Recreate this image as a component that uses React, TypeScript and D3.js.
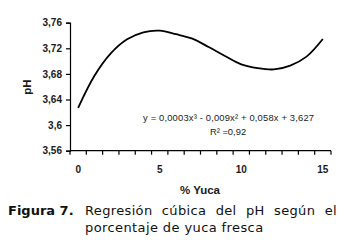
import React, { useEffect, useRef } from "react";
import * as d3 from "d3";

// % yuca (categorías) y pH
const yucaPct = [0, 1, 2, 3, 4, 5, 6, 7, 8, 9, 10, 11, 12, 13, 14, 15];
const phValues = [3.627, 3.677, 3.712, 3.734, 3.745, 3.7475, 3.742, 3.735, 3.722, 3.708, 3.695, 3.689, 3.687, 3.693, 3.707, 3.7345];
const yTicks = [3.56, 3.6, 3.64, 3.68, 3.72, 3.76];
const xLabelShown = [0, 5, 10, 15];
const equation = ["y = 0,0003x³ - 0,009x² + 0,058x + 3,627", "R² =0,92"];
const captionLine1 = ["Regresión", "cúbica", "del", "pH", "según", "el"];
const captionLine2 = "porcentaje de yuca fresca";

export default function App() {
  const svgRef = useRef<SVGSVGElement | null>(null);
  const W = 350;
  const H = 242;

  useEffect(() => {
    const svg = d3.select(svgRef.current);
    svg.selectAll("*").remove();

    const m = { left: 70, right: 19, top: 22.7, bottom: 91.3 };
    const font = "Liberation Sans, Arial, sans-serif";

    const x = d3
      .scaleBand<number>()
      .domain(yucaPct)
      .range([m.left, W - m.right])
      .padding(0);
    const y = d3
      .scaleLinear()
      .domain([3.56, 3.76])
      .range([H - m.bottom, m.top]);

    const fmt = (d: number) => String(+d.toFixed(2)).replace(".", ",");

    // eje y
    const gy = svg
      .append("g")
      .attr("transform", `translate(${m.left},0)`)
      .call(d3.axisLeft(y).tickValues(yTicks).tickSize(4).tickFormat((d) => fmt(d as number)));
    gy.select(".domain").attr("stroke", "#000").attr("stroke-width", 1.2);
    gy.selectAll(".tick line").attr("stroke", "#000").attr("stroke-width", 1.2);
    gy.selectAll("text")
      .attr("font-family", font)
      .attr("font-size", 10)
      .attr("font-weight", "bold")
      .attr("fill", "#1a1a1a")
      .attr("x", -8);

    // eje x (categorías, marcas en los bordes)
    const x0 = y(3.56);
    const gx = svg.append("g");
    gx.append("line")
      .attr("x1", m.left)
      .attr("x2", W - m.right)
      .attr("y1", x0)
      .attr("y2", x0)
      .attr("stroke", "#000")
      .attr("stroke-width", 1.2);
    const edges = yucaPct.map((d) => x(d) as number).concat([W - m.right]);
    gx.selectAll("line.tk")
      .data(edges)
      .join("line")
      .attr("class", "tk")
      .attr("x1", (d) => d)
      .attr("x2", (d) => d)
      .attr("y1", x0)
      .attr("y2", x0 + 4)
      .attr("stroke", "#000")
      .attr("stroke-width", 1.2);
    gx.selectAll("text")
      .data(xLabelShown)
      .join("text")
      .attr("x", (d) => (x(d) as number) + x.bandwidth() / 2)
      .attr("y", x0 + 22)
      .attr("text-anchor", "middle")
      .attr("font-family", font)
      .attr("font-size", 10)
      .attr("font-weight", "bold")
      .attr("fill", "#1a1a1a")
      .text((d) => d);

    // línea suavizada
    const line = d3
      .line<number>()
      .x((_, i) => (x(yucaPct[i]) as number) + x.bandwidth() / 2)
      .y((d) => y(d))
      .curve(d3.curveCatmullRom.alpha(0.5));
    svg
      .append("path")
      .datum(phValues)
      .attr("fill", "none")
      .attr("stroke", "#000")
      .attr("stroke-width", 1.8)
      .attr("d", line);

    // ecuación
    svg
      .append("text")
      .attr("x", 143)
      .attr("y", 121)
      .attr("font-family", font)
      .attr("font-size", 9.4)
      .attr("fill", "#222")
      .attr("textLength", 171)
      .attr("lengthAdjust", "spacing")
      .text(equation[0]);
    svg
      .append("text")
      .attr("x", 228)
      .attr("y", 135)
      .attr("text-anchor", "middle")
      .attr("font-family", font)
      .attr("font-size", 9.4)
      .attr("fill", "#222")
      .text(equation[1]);

    // títulos de ejes
    svg
      .append("text")
      .attr("transform", `translate(31,87) rotate(-90)`)
      .attr("text-anchor", "middle")
      .attr("font-family", font)
      .attr("font-size", 11.5)
      .attr("font-weight", "bold")
      .attr("fill", "#1a1a1a")
      .text("pH");
    svg
      .append("text")
      .attr("x", 200)
      .attr("y", 194)
      .attr("text-anchor", "middle")
      .attr("font-family", font)
      .attr("font-size", 11.5)
      .attr("font-weight", "bold")
      .attr("fill", "#1a1a1a")
      .text("% Yuca");

    // pie de figura
    const cap = "DejaVu Sans, Verdana, sans-serif";
    const capSize = 13;
    svg
      .append("text")
      .attr("x", 8)
      .attr("y", 215)
      .attr("font-family", cap)
      .attr("font-size", capSize)
      .attr("font-weight", "bold")
      .attr("fill", "#111")
      .text("Figura 7.");

    // primera línea justificada: palabras repartidas entre 85 y 337
    const words = svg
      .append("g")
      .selectAll("text")
      .data(captionLine1)
      .join("text")
      .attr("y", 215)
      .attr("font-family", cap)
      .attr("font-size", capSize)
      .attr("letter-spacing", 0.35)
      .attr("fill", "#111")
      .text((d) => d);
    const widths = words.nodes().map((n) => (n as SVGTextElement).getComputedTextLength());
    const total = d3.sum(widths);
    const gap = (337 - 85 - total) / (captionLine1.length - 1);
    let cx = 85;
    words.attr("x", (_, i) => {
      const pos = cx;
      cx += widths[i] + gap;
      return pos;
    });

    svg
      .append("text")
      .attr("x", 85)
      .attr("y", 232)
      .attr("font-family", cap)
      .attr("font-size", capSize)
      .attr("letter-spacing", 0.4)
      .attr("fill", "#111")
      .text(captionLine2);
  }, []);

  return (
    <svg
      ref={svgRef}
      width={W}
      height={H}
      style={{ position: "absolute", left: 0, top: 0, background: "#fff" }}
    />
  );
}
